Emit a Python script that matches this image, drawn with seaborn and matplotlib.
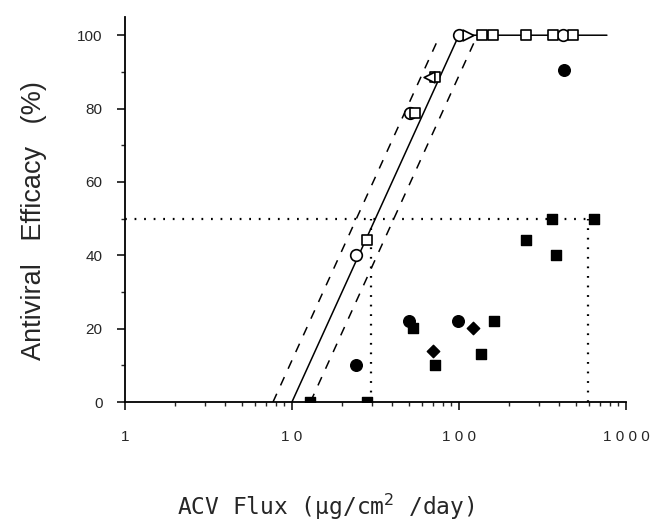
import numpy as np
import pandas as pd
import matplotlib
matplotlib.use("Agg")
import matplotlib.pyplot as plt
from matplotlib.ticker import FixedLocator, LogLocator, NullFormatter, MultipleLocator
import seaborn as sns

sns.set_style("ticks")
plt.rcParams["font.family"] = ["Liberation Sans", "DejaVu Sans"]

# open symbols (sit on the fitted line)
open_circle_x = [24.2, 50.9, 100.4, 421]
open_circle_y = [40, 78.7, 100, 100]
open_square_x = [28, 54.5, 71.8, 136.7, 160.6, 254, 367, 484]
open_square_y = [44.1, 78.7, 88.5, 100, 100, 100, 100, 100]
open_ltri_x = [66.4]
open_ltri_y = [88.5]
open_rtri_x = [113.7]
open_rtri_y = [100]

# filled symbols
filled_circle_x = [24.2, 50.4, 99, 425]
filled_circle_y = [10.1, 22.2, 22.2, 90.5]
filled_square_x = [12.8, 28, 53.2, 71.8, 135.5, 162.7, 252, 362, 381, 643]
filled_square_y = [0, 0, 20.1, 10, 13.1, 22.2, 44.1, 50, 40, 50]
filled_diamond_x = [69.6, 122]
filled_diamond_y = [13.9, 20.1]

# fitted line and confidence band
fit_x = [10, 100, 770]
fit_y = [0, 100, 100]
lower_x = [7.7, 77]
upper_x = [12.9, 129]
band_y = [0, 100]

# 50 % efficacy guides
half_x = [1, 595]
half_y = [50, 50]
cut_lo_x = [29.7, 29.7]
cut_hi_x = [595, 595]
cut_y = [0, 50]

fig = plt.figure(figsize=(6.54, 5.27), dpi=100)
ax = fig.add_axes([0.191, 0.237, 0.766, 0.731])

ax.plot(fit_x, fit_y, color="black", lw=1.1, zorder=2)
ax.plot(lower_x, band_y, color="black", lw=1.1, ls=(0, (6, 6)), zorder=2)
ax.plot(upper_x, band_y, color="black", lw=1.1, ls=(0, (6, 6)), zorder=2)
ax.plot(half_x, half_y, color="black", lw=1.6, ls=(0, (0.8, 3.5)), zorder=1)
ax.plot(cut_lo_x, cut_y, color="black", lw=1.6, ls=(0, (0.8, 3.5)), zorder=1)
ax.plot(cut_hi_x, cut_y, color="black", lw=1.6, ls=(0, (0.8, 3.5)), zorder=1)

open_kw = dict(color="white", edgecolor="black", linewidth=1.2, zorder=4, legend=False)
filled_kw = dict(color="black", edgecolor="black", linewidth=1.0, zorder=4, legend=False)

sns.scatterplot(x=open_circle_x, y=open_circle_y, marker="o", s=70, ax=ax, **open_kw)
sns.scatterplot(x=open_square_x, y=open_square_y, marker="s", s=60, ax=ax, **open_kw)
sns.scatterplot(x=open_ltri_x, y=open_ltri_y, marker="<", s=60, ax=ax, **open_kw)
sns.scatterplot(x=open_rtri_x, y=open_rtri_y, marker=">", s=60, ax=ax, **open_kw)
sns.scatterplot(x=filled_circle_x, y=filled_circle_y, marker="o", s=70, ax=ax, **filled_kw)
sns.scatterplot(x=filled_square_x, y=filled_square_y, marker="s", s=60, ax=ax, **filled_kw)
sns.scatterplot(x=filled_diamond_x, y=filled_diamond_y, marker="D", s=40, ax=ax, **filled_kw)

ax.set_xscale("log")
ax.set_xlim(1, 1000)
ax.set_ylim(0, 105)

ax.xaxis.set_major_locator(FixedLocator([1, 10, 100, 1000]))
ax.set_xticklabels(["1", "1 0", "1 0 0", "1 0 0 0"])
ax.xaxis.set_minor_locator(LogLocator(base=10, subs=np.arange(2, 10)))
ax.xaxis.set_minor_formatter(NullFormatter())
ax.yaxis.set_major_locator(FixedLocator([0, 20, 40, 60, 80, 100]))
ax.yaxis.set_minor_locator(MultipleLocator(10))

ax.tick_params(axis="both", which="major", labelsize=11, length=6, width=1.1,
               direction="out", color="black")
ax.tick_params(axis="both", which="minor", length=3, width=1.0, direction="out")
ax.tick_params(axis="x", which="major", pad=14)
ax.tick_params(axis="y", which="major", pad=10)

for side in ["top", "right"]:
    ax.spines[side].set_visible(False)
ax.spines["left"].set_linewidth(1.3)
ax.spines["bottom"].set_linewidth(1.3)
ax.spines["left"].set_color("black")
ax.spines["bottom"].set_color("black")

ax.set_ylabel("Antiviral   Efficacy   (%)", fontsize=19.5)
ax.yaxis.set_label_coords(-0.155, 0.47)
ax.set_xlabel("ACV Flux (µg/cm$^{2}$ /day)", fontsize=16.5,
              family=["DejaVu Sans Mono"])
ax.xaxis.set_label_coords(0.4, -0.232)

plt.savefig("out.png", dpi=100)
